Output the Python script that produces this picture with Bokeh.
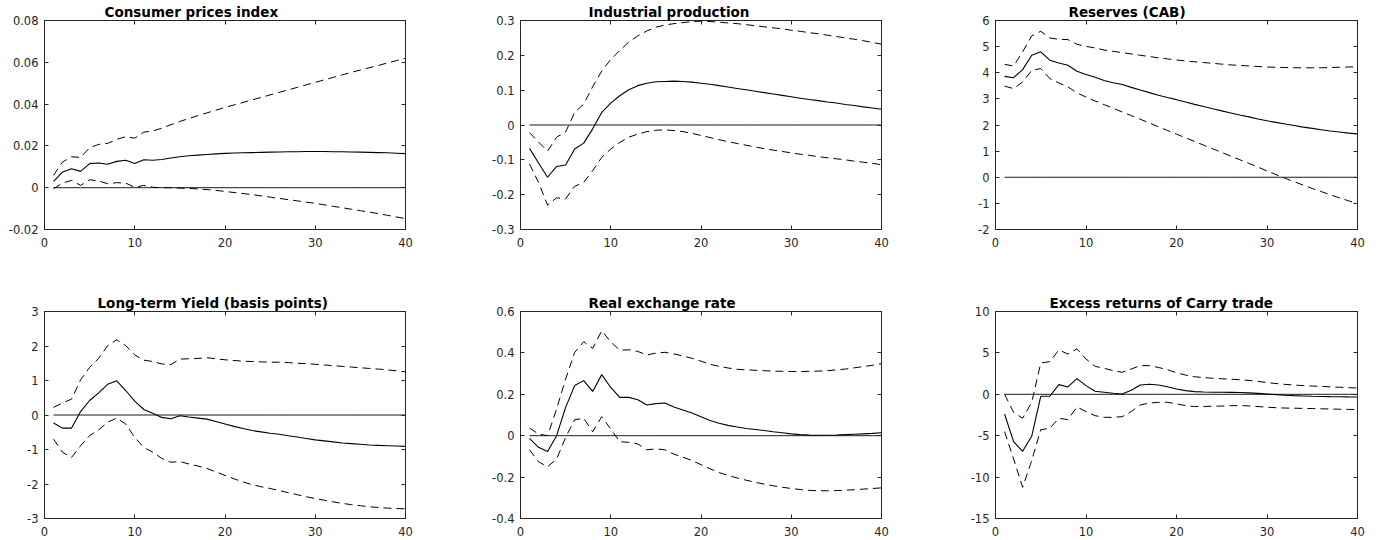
from bokeh.plotting import figure
from bokeh.models import Range1d, FixedTicker, Title, LinearAxis
from bokeh.layouts import column, row
from bokeh.embed import file_html
from bokeh.resources import INLINE

horizon = list(range(1, 41))
zero_line = [0.0] * 40

titles = ["Consumer prices index", "Industrial production", "Reserves (CAB)",
          "Long-term Yield (basis points)", "Real exchange rate", "Excess returns of Carry trade"]

x_ticks = [0, 10, 20, 30, 40]
x_tick_labels = ["0", "10", "20", "30", "40"]

cpi_mid = [0.0030, 0.0075, 0.0091, 0.0078, 0.0115, 0.0118, 0.0112, 0.0126, 0.0131, 0.0116,
           0.0134, 0.0131, 0.0135, 0.0142, 0.0148, 0.0153, 0.0156, 0.0159, 0.0162, 0.0164,
           0.0166, 0.0167, 0.0168, 0.0169, 0.0170, 0.0171, 0.0172, 0.0172, 0.0173, 0.0173,
           0.0173, 0.0172, 0.0172, 0.0171, 0.0170, 0.0169, 0.0168, 0.0167, 0.0165, 0.0163]
cpi_up = [0.0059, 0.0123, 0.0148, 0.0145, 0.0191, 0.0207, 0.0212, 0.0231, 0.0244, 0.0237,
          0.0266, 0.0271, 0.0285, 0.0301, 0.0317, 0.0331, 0.0345, 0.0358, 0.0371, 0.0384,
          0.0396, 0.0408, 0.0420, 0.0432, 0.0444, 0.0456, 0.0468, 0.0480, 0.0492, 0.0504,
          0.0516, 0.0528, 0.0540, 0.0552, 0.0563, 0.0574, 0.0585, 0.0597, 0.0608, 0.0619]
cpi_lo = [-0.0005, 0.0022, 0.0035, 0.0011, 0.0038, 0.0032, 0.0019, 0.0024, 0.0022, 0.0002,
          0.0011, 0.0002, 0.0000, 0.0000, -0.0002, -0.0003, -0.0006, -0.0009, -0.0013, -0.0018,
          -0.0023, -0.0028, -0.0033, -0.0039, -0.0045, -0.0051, -0.0057, -0.0063, -0.0069, -0.0075,
          -0.0082, -0.0089, -0.0096, -0.0103, -0.0110, -0.0117, -0.0124, -0.0132, -0.0140, -0.0148]
cpi_ticks = [-0.02, 0, 0.02, 0.04, 0.06, 0.08]
cpi_tick_labels = ["-0.02", "0", "0.02", "0.04", "0.06", "0.08"]

ip_mid = [-0.067, -0.109, -0.150, -0.119, -0.115, -0.069, -0.052, -0.011, 0.036, 0.063,
          0.084, 0.101, 0.113, 0.120, 0.124, 0.125, 0.126, 0.125, 0.123, 0.120,
          0.117, 0.113, 0.109, 0.105, 0.101, 0.097, 0.093, 0.089, 0.085, 0.081,
          0.077, 0.073, 0.070, 0.066, 0.063, 0.059, 0.056, 0.052, 0.049, 0.045]
ip_up = [-0.022, -0.049, -0.075, -0.035, -0.020, 0.036, 0.060, 0.110, 0.155, 0.188,
         0.214, 0.238, 0.256, 0.270, 0.281, 0.287, 0.291, 0.294, 0.297, 0.298,
         0.297, 0.295, 0.293, 0.291, 0.288, 0.285, 0.282, 0.279, 0.276, 0.272,
         0.269, 0.265, 0.262, 0.258, 0.254, 0.250, 0.246, 0.242, 0.237, 0.232]
ip_lo = [-0.112, -0.165, -0.230, -0.209, -0.212, -0.176, -0.165, -0.131, -0.093, -0.069,
         -0.050, -0.035, -0.026, -0.019, -0.015, -0.014, -0.016, -0.019, -0.024, -0.030,
         -0.036, -0.042, -0.048, -0.053, -0.058, -0.063, -0.068, -0.072, -0.076, -0.080,
         -0.084, -0.087, -0.091, -0.094, -0.097, -0.100, -0.104, -0.107, -0.110, -0.114]
ip_ticks = [-0.3, -0.2, -0.1, 0, 0.1, 0.2, 0.3]
ip_tick_labels = ["-0.3", "-0.2", "-0.1", "0", "0.1", "0.2", "0.3"]

res_mid = [3.86, 3.81, 4.12, 4.67, 4.80, 4.48, 4.37, 4.29, 4.06, 3.93,
           3.83, 3.70, 3.62, 3.55, 3.44, 3.34, 3.24, 3.14, 3.05, 2.97,
           2.88, 2.79, 2.71, 2.62, 2.54, 2.46, 2.38, 2.31, 2.23, 2.16,
           2.10, 2.04, 1.98, 1.92, 1.87, 1.82, 1.77, 1.73, 1.69, 1.66]
res_up = [4.32, 4.26, 4.80, 5.41, 5.59, 5.33, 5.28, 5.27, 5.09, 5.01,
          4.95, 4.87, 4.82, 4.77, 4.72, 4.67, 4.62, 4.57, 4.53, 4.49,
          4.45, 4.42, 4.39, 4.36, 4.33, 4.30, 4.28, 4.26, 4.24, 4.22,
          4.21, 4.20, 4.19, 4.19, 4.19, 4.19, 4.20, 4.21, 4.22, 4.23]
res_lo = [3.49, 3.39, 3.65, 4.09, 4.16, 3.78, 3.61, 3.46, 3.23, 3.07,
          2.92, 2.78, 2.64, 2.50, 2.36, 2.22, 2.08, 1.93, 1.79, 1.65,
          1.51, 1.37, 1.23, 1.09, 0.95, 0.81, 0.67, 0.53, 0.39, 0.24,
          0.10, -0.04, -0.17, -0.30, -0.43, -0.55, -0.67, -0.79, -0.90, -1.01]
res_ticks = [-2, -1, 0, 1, 2, 3, 4, 5, 6]
res_tick_labels = ["-2", "-1", "0", "1", "2", "3", "4", "5", "6"]

ly_mid = [-0.23, -0.38, -0.38, 0.10, 0.42, 0.64, 0.89, 0.99, 0.71, 0.40,
          0.16, 0.05, -0.07, -0.11, -0.02, -0.06, -0.09, -0.12, -0.19, -0.26,
          -0.33, -0.39, -0.45, -0.49, -0.53, -0.56, -0.60, -0.64, -0.68, -0.72,
          -0.75, -0.78, -0.81, -0.83, -0.85, -0.87, -0.88, -0.89, -0.90, -0.91]
ly_up = [0.22, 0.35, 0.46, 1.02, 1.38, 1.64, 2.01, 2.18, 2.01, 1.74,
         1.59, 1.55, 1.48, 1.46, 1.62, 1.63, 1.64, 1.66, 1.63, 1.60,
         1.58, 1.56, 1.55, 1.54, 1.53, 1.53, 1.52, 1.50, 1.49, 1.47,
         1.45, 1.43, 1.41, 1.39, 1.37, 1.35, 1.33, 1.31, 1.28, 1.25]
ly_lo = [-0.70, -1.08, -1.23, -0.89, -0.60, -0.43, -0.21, -0.09, -0.26, -0.65,
         -0.94, -1.08, -1.26, -1.37, -1.35, -1.42, -1.48, -1.55, -1.65, -1.75,
         -1.85, -1.94, -2.02, -2.08, -2.13, -2.19, -2.25, -2.31, -2.37, -2.42,
         -2.47, -2.52, -2.56, -2.60, -2.63, -2.66, -2.68, -2.70, -2.71, -2.72]
ly_ticks = [-3, -2, -1, 0, 1, 2, 3]
ly_tick_labels = ["-3", "-2", "-1", "0", "1", "2", "3"]

rer_mid = [-0.013, -0.056, -0.076, 0.000, 0.137, 0.242, 0.266, 0.214, 0.295, 0.233,
           0.185, 0.185, 0.174, 0.148, 0.155, 0.158, 0.139, 0.124, 0.110, 0.091,
           0.073, 0.060, 0.050, 0.042, 0.035, 0.030, 0.025, 0.019, 0.014, 0.009,
           0.005, 0.003, 0.002, 0.002, 0.003, 0.005, 0.007, 0.009, 0.011, 0.014]
rer_up = [0.037, 0.008, 0.000, 0.129, 0.274, 0.402, 0.454, 0.422, 0.507, 0.454,
          0.413, 0.415, 0.407, 0.390, 0.399, 0.403, 0.395, 0.385, 0.374, 0.360,
          0.345, 0.335, 0.327, 0.321, 0.318, 0.316, 0.314, 0.312, 0.311, 0.310,
          0.310, 0.311, 0.312, 0.314, 0.318, 0.322, 0.328, 0.334, 0.340, 0.348]
rer_lo = [-0.068, -0.126, -0.150, -0.113, -0.008, 0.077, 0.084, 0.019, 0.092, 0.032,
          -0.029, -0.032, -0.040, -0.068, -0.064, -0.068, -0.089, -0.104, -0.120, -0.140,
          -0.160, -0.178, -0.192, -0.204, -0.215, -0.225, -0.234, -0.242, -0.249, -0.255,
          -0.260, -0.264, -0.266, -0.266, -0.265, -0.263, -0.261, -0.258, -0.255, -0.252]
rer_ticks = [-0.4, -0.2, 0, 0.2, 0.4, 0.6]
rer_tick_labels = ["-0.4", "-0.2", "0", "0.2", "0.4", "0.6"]

ex_mid = [-2.38, -5.72, -6.88, -5.07, -0.24, -0.24, 1.17, 0.89, 1.89, 1.05,
          0.36, 0.24, 0.12, 0.04, 0.48, 1.13, 1.21, 1.12, 0.92, 0.64,
          0.44, 0.32, 0.27, 0.24, 0.24, 0.23, 0.21, 0.17, 0.11, 0.04,
          -0.04, -0.11, -0.16, -0.20, -0.24, -0.26, -0.28, -0.29, -0.31, -0.32]
ex_up = [0.00, -2.17, -2.90, -0.97, 3.78, 3.94, 5.35, 4.87, 5.48, 4.27,
         3.38, 3.14, 2.86, 2.66, 3.06, 3.46, 3.46, 3.24, 2.98, 2.60,
         2.32, 2.12, 2.02, 1.94, 1.88, 1.82, 1.76, 1.68, 1.56, 1.42,
         1.30, 1.20, 1.12, 1.05, 1.00, 0.96, 0.90, 0.85, 0.80, 0.76]
ex_lo = [-4.51, -7.81, -11.23, -8.01, -4.27, -4.11, -2.90, -3.06, -1.53, -2.09,
         -2.58, -2.78, -2.78, -2.70, -2.09, -1.29, -1.05, -0.98, -0.96, -1.16,
         -1.36, -1.48, -1.47, -1.44, -1.42, -1.38, -1.36, -1.40, -1.48, -1.56,
         -1.62, -1.66, -1.68, -1.70, -1.72, -1.75, -1.78, -1.80, -1.82, -1.84]
ex_ticks = [-15, -10, -5, 0, 5, 10]
ex_tick_labels = ["-15", "-10", "-5", "0", "5", "10"]

panels = [
    (cpi_mid, cpi_up, cpi_lo, cpi_ticks, cpi_tick_labels),
    (ip_mid, ip_up, ip_lo, ip_ticks, ip_tick_labels),
    (res_mid, res_up, res_lo, res_ticks, res_tick_labels),
    (ly_mid, ly_up, ly_lo, ly_ticks, ly_tick_labels),
    (rer_mid, rer_up, rer_lo, rer_ticks, rer_tick_labels),
    (ex_mid, ex_up, ex_lo, ex_ticks, ex_tick_labels),
]

# layout (pixels); the page has no margin
COLS = [dict(width=470, left=44, right=65),
        dict(width=465, left=50, right=54),
        dict(width=444, left=60, right=22)]
ROWS = [dict(height=270, top=20, bottom=41),
        dict(height=270, top=41, bottom=22)]
TITLE_LEFT = [60, 68, 73, 53, 68, 54]

AX = "#262626"
TICK_FONT = "DejaVu Sans"


def style_axis(ax, ticks, labels, standoff, show_labels=True):
    ax.ticker = FixedTicker(ticks=ticks)
    ax.axis_line_color = AX
    ax.axis_line_width = 1
    ax.major_tick_line_color = AX
    ax.major_tick_line_width = 1
    ax.major_tick_in = 4
    ax.major_tick_out = 0
    ax.minor_tick_line_color = None
    ax.major_label_text_font = TICK_FONT
    if show_labels:
        ax.major_label_overrides = {t: l for t, l in zip(ticks, labels)}
        ax.major_label_text_color = AX
        ax.major_label_text_font_size = "11.5px"
        ax.major_label_standoff = standoff
    else:
        # tick marks only (box ticks of the mirrored side); labels are not painted
        ax.major_label_text_color = None
        ax.major_label_text_font_size = "1px"
        ax.major_label_standoff = 0


figs = []
for i, (mid, up, lo, yt, ytl) in enumerate(panels):
    r, c = divmod(i, 3)
    cs, rs = COLS[c], ROWS[r]
    title = Title(text=titles[i], align="left", offset=TITLE_LEFT[i],
                  text_font="DejaVu Sans", text_font_style="bold",
                  text_font_size="13.5px", text_color="black", standoff=2)
    p = figure(width=cs["width"], height=rs["height"], output_backend="svg",
               toolbar_location=None, title=title,
               x_range=Range1d(0, 40), y_range=Range1d(yt[0], yt[-1]),
               min_border_left=cs["left"], min_border_right=cs["right"],
               min_border_top=rs["top"], min_border_bottom=rs["bottom"])
    p.xgrid.visible = False
    p.ygrid.visible = False
    p.outline_line_color = AX
    p.outline_line_width = 1
    p.background_fill_color = "white"
    p.border_fill_color = "white"

    style_axis(p.xaxis[0], x_ticks, x_tick_labels, 8)
    style_axis(p.yaxis[0], yt, ytl, 6)
    top_ax = LinearAxis()
    style_axis(top_ax, x_ticks, x_tick_labels, 0, show_labels=False)
    p.add_layout(top_ax, "above")
    right_ax = LinearAxis()
    style_axis(right_ax, yt, ytl, 0, show_labels=False)
    p.add_layout(right_ax, "right")

    p.line(horizon, zero_line, line_color="black", line_width=0.9)
    p.line(horizon, up, line_color="black", line_width=1, line_dash="8 5")
    p.line(horizon, lo, line_color="black", line_width=1, line_dash="8 5")
    p.line(horizon, mid, line_color="black", line_width=1.1)
    figs.append(p)

layout = column(row(*figs[:3]), row(*figs[3:]))
open("out.html", "w").write(file_html(layout, INLINE))
